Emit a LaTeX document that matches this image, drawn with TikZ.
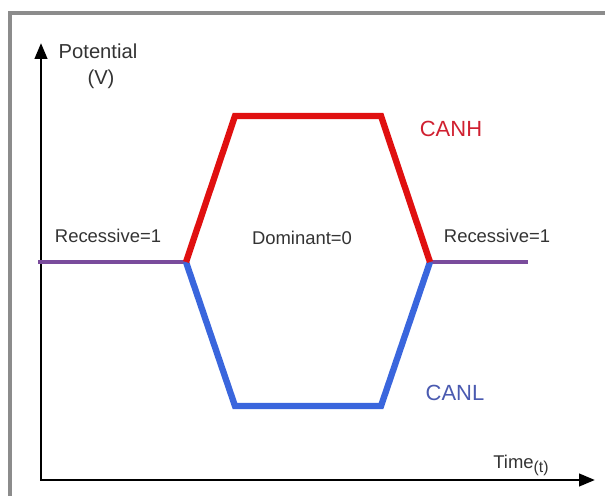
\documentclass[tikz,border=0pt]{standalone}
\usepackage{fontspec}
\setmainfont{Liberation Sans}
\usetikzlibrary{positioning,arrows.meta}
\definecolor{canRed}{HTML}{E01010}
\definecolor{canBlue}{HTML}{3A66DD}
\definecolor{canPurple}{HTML}{7A4C9C}
\definecolor{canFrame}{HTML}{8C8C8C}
\definecolor{canText}{HTML}{333333}
\definecolor{canHText}{HTML}{D02030}
\definecolor{canLText}{HTML}{4A5AB0}

\begin{document}
\begin{tikzpicture}[x=0.02cm,y=-0.02cm, lbl/.style={text=canText,inner sep=0pt,font=\fontsize{10.5}{12}\selectfont}, busname/.style={inner sep=0pt,font=\fontsize{12.5}{14}\selectfont}, sig/.style={line width=3.6pt,line join=miter}, >={Triangle[length=9pt,width=7pt]}]
\useasboundingbox (0,0) rectangle (605,496);
\draw[canFrame,line width=2.4pt] (10,496)--(10,13)--(605,13);
% axes
\coordinate (ytop) at (41,43);\coordinate (o) at (41,480);\coordinate (xend) at (595,480);
\draw[<->,line width=1.6pt] (ytop)--(o)--(xend);
\node[lbl,font=\fontsize{11.5}{13}\selectfont] (pot) at (98,51) {Potential};
\node[lbl,font=\fontsize{11.5}{13}\selectfont] (unit) at (101,79) {(V)};
\node[lbl,anchor=base west] (time) at (493,468) {Time\raisebox{-2.5pt}{\fontsize{9}{10}\selectfont(t)}};
% waveform points
\coordinate (l0) at (38,262);\coordinate (r0) at (186,262);
\coordinate (h1) at (235,116);\coordinate (h2) at (381,116);
\coordinate (b1) at (235,406);\coordinate (b2) at (381,406);
\coordinate (r1) at (430,262);\coordinate (l1) at (528,262);
\draw[sig,canPurple,line width=2.6pt] (l0)--(r0);\draw[sig,canPurple,line width=2.6pt] (r1)--(l1);
\draw[sig,canBlue] (r0)--(b1)--(b2)--(r1);
\draw[sig,canRed] (r0)--(h1)--(h2)--(r1);
\node[lbl] (rec1) at (108,236) {Recessive=1};
\node[lbl] (dom) at (302,238) {Dominant=0};
\node[lbl] (rec2) at (497,236) {Recessive=1};
\node[busname,text=canHText] (canh) at (451,129) {CANH};
\node[busname,text=canLText] (canl) at (455,393) {CANL};
\end{tikzpicture}
\end{document}
